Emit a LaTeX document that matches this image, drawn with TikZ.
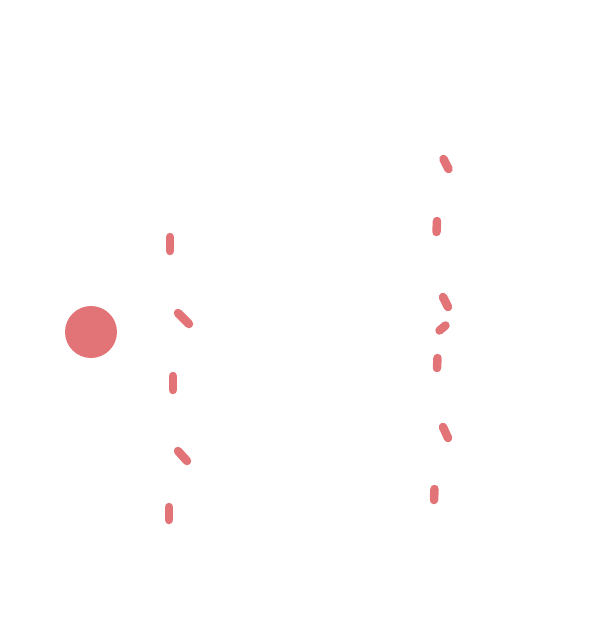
\documentclass[tikz,border=0pt]{standalone}
\definecolor{dashred}{RGB}{226,116,120}
\begin{document}
\begin{tikzpicture}[x=1pt,y=-1pt,
  tick/.style={draw=dashred,line width=8.5pt,line cap=round},
  dot/.style={circle,fill=dashred,minimum size=52pt,inner sep=0pt}]
\useasboundingbox (0,0) rectangle (600,641);
\node[dot] (source) at (91,332) {};
% left wavefront
\draw[tick] (170,237) -- (170,251);
\draw[tick] (178,313) -- (189,324);
\draw[tick] (173,376) -- (173,390);
\draw[tick] (178,451) -- (187,461);
\draw[tick] (169,507) -- (169,520);
% right wavefront
\draw[tick] (443.5,159) -- (448.5,169);
\draw[tick] (437,221) -- (436.5,232);
\draw[tick] (443,297) -- (448,307);
\draw[tick] (445.5,325.5) -- (439.5,330.5);
\draw[tick] (437.5,358) -- (437,368);
\draw[tick] (443,427) -- (448,438);
\draw[tick] (434.5,489) -- (434,500);
\end{tikzpicture}
\end{document}
